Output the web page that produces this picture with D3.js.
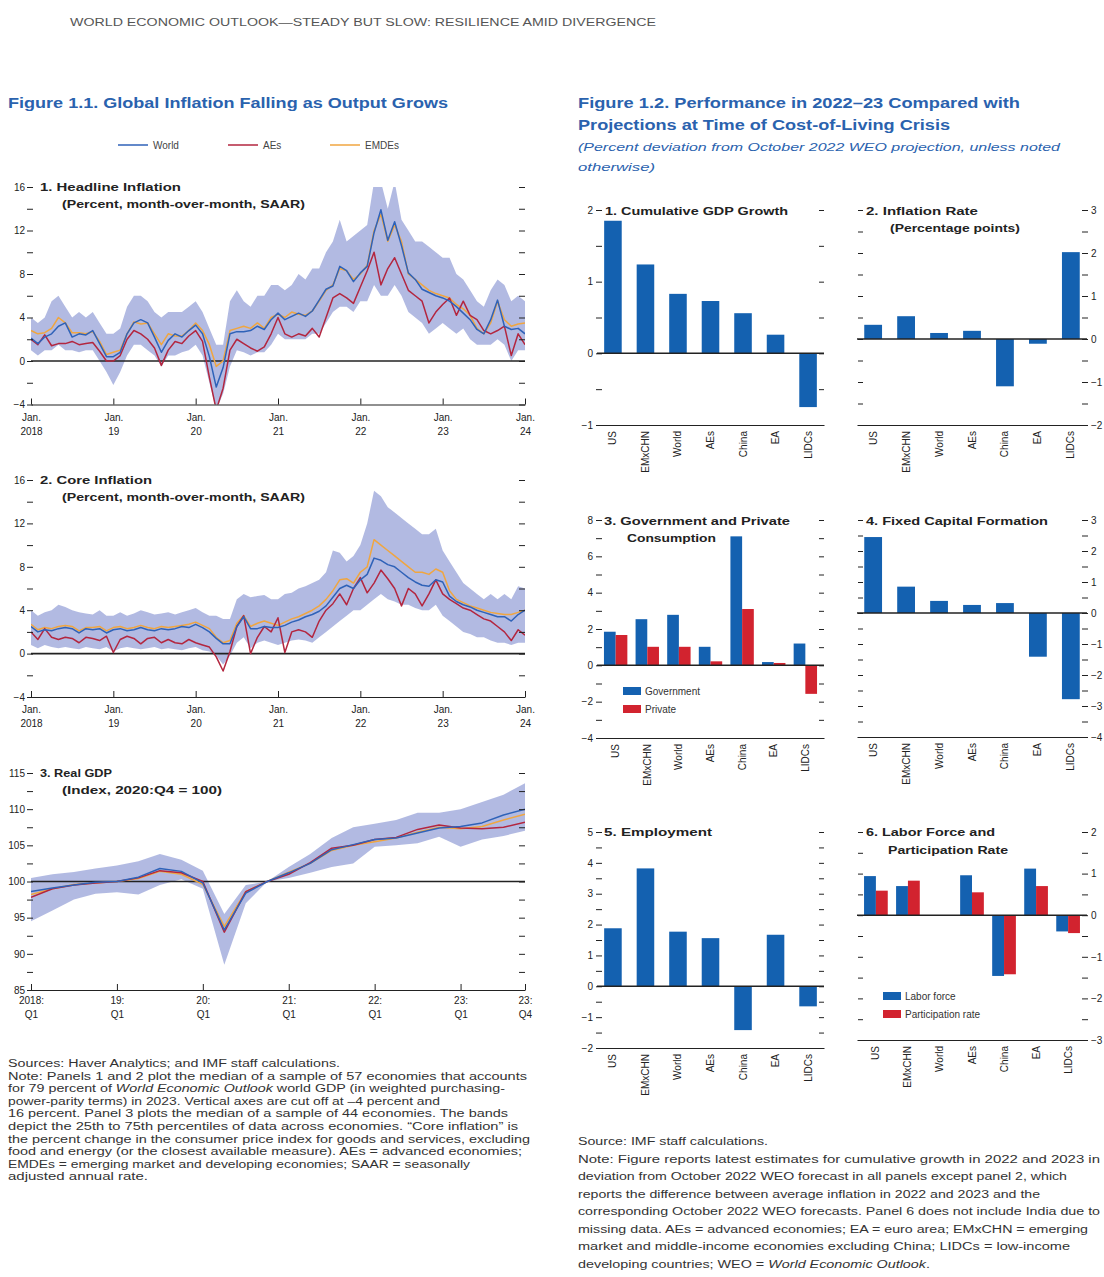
<!DOCTYPE html>
<html>
<head>
<meta charset="utf-8">
<script src="https://cdn.jsdelivr.net/npm/d3@7"></script>
<style>
body { margin: 0; background: #fff; }
</style>
</head>
<body>
<svg id="page" width="1104" height="1277"></svg>
<script>
const FONT = '"Liberation Sans", Arial, sans-serif';
const BLUE_TITLE = '#2a62ae';
const BAR_BLUE = '#1461b0';
const BAR_RED = '#d2232f';

// Figure 1.1 -- monthly, Jan 2018 .. Jan 2024
const headlineWorld = [2.1, 1.6, 2.2, 2.5, 3.2, 3.5, 2.2, 2.5, 2.4, 2.8, 1.6, 0.4,
	0.4, 0.8, 2.5, 3.5, 3.8, 3.5, 2.2, 0.8, 1.9, 2.5, 2.2, 2.8,
	3.3, 2.5, 0.4, -2.4, -0.6, 2.5, 2.7, 2.7, 2.8, 3.2, 2.9, 3.8,
	4.4, 3.8, 4.1, 4.4, 4.1, 4.6, 5.6, 6.6, 6.9, 8.7, 8.3, 7.3,
	8.1, 8.7, 11.8, 13.9, 11.1, 12.8, 10.6, 8.1, 7.5, 6.6, 6.3, 6.0,
	5.8, 5.5, 5.0, 4.4, 3.8, 2.9, 2.5, 3.8, 5.6, 3.2, 2.9, 3.0,
	2.5];
const headlineAEs = [2.0, 1.5, 2.4, 1.4, 1.6, 1.6, 1.8, 1.5, 1.6, 1.7, 0.9, 0.0,
	0.0, 0.5, 2.0, 2.8, 2.5, 2.0, 1.2, -0.4, 1.0, 1.8, 1.6, 2.3,
	2.8, 1.8, -1.5, -4.5, -2.5, 1.0, 2.0, 1.6, 1.2, 0.9, 1.3, 2.5,
	4.0, 2.5, 2.2, 2.5, 2.3, 3.0, 2.2, 4.0, 5.8, 6.2, 5.8, 5.3,
	6.8, 8.3, 10.0, 7.0, 8.5, 9.5, 8.0, 6.5, 6.0, 5.5, 3.5, 4.5,
	5.2, 5.8, 4.2, 5.5, 4.2, 3.8, 2.8, 2.5, 2.8, 3.2, 0.5, 2.5,
	1.5];
const headlineEMDEs = [2.8, 2.5, 2.6, 3.0, 4.0, 3.5, 2.6, 2.6, 2.5, 2.7, 1.8, 0.6,
	0.8, 1.0, 2.5, 3.6, 3.4, 3.5, 2.5, 1.5, 2.5, 2.3, 2.3, 2.8,
	3.5, 2.8, 1.5, -0.5, 0.0, 2.8, 3.0, 3.2, 3.0, 3.5, 3.0, 4.0,
	4.3, 4.0, 4.5, 4.3, 4.2, 4.6, 5.5, 6.5, 7.0, 8.5, 8.3, 7.5,
	8.0, 8.8, 12.0, 13.5, 11.0, 12.5, 11.0, 8.0, 7.5, 7.0, 6.5, 6.2,
	6.0, 5.8, 5.2, 4.8, 4.2, 3.0, 2.5, 3.5, 5.5, 3.8, 3.2, 3.4,
	3.5];
const headlineBandHigh = [4, 3.5, 4, 5.5, 6, 5, 4, 4.5, 4, 4.5, 3.5, 2.5,
	2.5, 3, 5, 6, 6, 5.5, 4.5, 4, 4.5, 4.5, 4.5, 5,
	5.5, 4.5, 3, 1.5, 1.5, 5.5, 6.5, 5.5, 5, 6, 6, 7,
	7, 6.5, 7, 8, 7.5, 8.5, 8.5, 10, 11, 13, 11, 11.5,
	12, 12.5, 16.5, 16.5, 14, 16.5, 13, 12, 11, 11, 10.5, 10,
	9.5, 9.5, 8, 7.5, 6.5, 5.5, 5, 6.5, 7.5, 7, 5.5, 6,
	5.5];
const headlineBandLow = [1, 0.5, 1, 1, 1.5, 1, 1, 0.8, 1, 1, 0, -1,
	-2.2, -1, 0.5, 1.5, 1.5, 1, 0.5, -0.5, 0.5, 0.5, 0.8, 1,
	1.5, 0.5, -2, -4.5, -3, -0.5, 1, 0.8, 0.5, 0.8, 0.8, 1.5,
	2.5, 2, 2, 2, 2, 2.5, 2.5, 3.5, 4.5, 5, 5, 4.5,
	5.5, 5.5, 7, 6, 6, 7, 6, 4.5, 4, 3.5, 2.5, 3,
	3.5, 3, 2.5, 3, 2, 1.5, 1.5, 1.5, 2, 1.5, 0, 1,
	1];

const coreWorld = [2.5, 2.0, 2.2, 2.1, 2.3, 2.4, 2.3, 1.9, 2.3, 2.2, 2.3, 1.9,
	2.2, 2.3, 2.1, 2.2, 2.4, 2.2, 2.1, 2.3, 2.2, 2.3, 2.5, 2.4,
	2.7, 2.4, 2.0, 1.4, 0.9, 0.9, 2.5, 3.4, 2.3, 2.3, 2.5, 2.4,
	2.4, 2.6, 2.9, 3.1, 3.4, 3.6, 3.9, 4.4, 5.2, 6.0, 6.3, 6.0,
	6.8, 7.3, 8.8, 8.6, 8.2, 8.0, 7.5, 7.0, 6.6, 6.3, 6.2, 6.8,
	6.6, 5.3, 4.8, 4.5, 4.3, 4.0, 3.8, 3.6, 3.4, 3.4, 3.0, 3.6,
	4.0];
const coreAEs = [2.0, 1.3, 2.3, 1.5, 1.3, 1.5, 1.4, 1.0, 1.5, 1.4, 1.2, 1.6,
	0.1, 1.3, 1.6, 1.4, 0.9, 1.4, 1.5, 1.0, 1.3, 1.0, 0.9, 1.3,
	1.0, 0.8, 0.6, -0.3, -1.6, 0.2, 2.5, 3.5, 0.0, 1.5, 2.5, 2.0,
	3.3, 0.1, 2.0, 2.2, 2.0, 1.5, 3.0, 4.0, 4.6, 5.5, 4.5, 6.0,
	7.0, 5.6, 6.5, 7.7, 6.9, 6.0, 4.4, 6.0, 5.5, 4.4, 5.5, 6.8,
	5.5, 5.0, 4.6, 4.2, 4.0, 3.6, 3.2, 3.0, 2.5, 2.0, 1.2, 2.2,
	1.7];
const coreEMDEs = [2.7, 2.2, 2.4, 2.3, 2.5, 2.6, 2.5, 2.1, 2.4, 2.4, 2.5, 2.1,
	2.4, 2.5, 2.3, 2.4, 2.6, 2.4, 2.3, 2.5, 2.4, 2.5, 2.6, 2.7,
	2.9, 2.6, 2.3, 1.5, 1.0, 1.2, 2.8, 3.5, 2.5, 2.8, 3.0, 2.8,
	2.6, 2.9, 3.2, 3.4, 3.7, 4.0, 4.4, 5.0, 5.8, 6.8, 6.9, 6.5,
	7.5, 8.0, 10.5, 10.0, 9.5, 9.0, 8.5, 8.0, 7.5, 7.5, 7.3, 7.8,
	7.5, 5.8, 5.0, 4.7, 4.4, 4.2, 4.0, 3.8, 3.7, 3.6, 3.6, 3.8,
	4.0];
const coreBandHigh = [4.0, 3.5, 3.8, 4.0, 4.5, 4.3, 4.0, 3.8, 3.7, 3.6, 4.0, 3.5,
	3.5, 3.8, 3.5, 3.7, 4.0, 3.8, 3.6, 3.7, 3.8, 3.6, 3.8, 4.0,
	4.2, 3.8, 3.5, 3.5, 3.2, 3.2, 5.0, 5.5, 5.2, 5.3, 5.4, 5.0,
	5.0, 5.5, 5.6, 6.0, 6.2, 6.5, 6.8, 7.5, 9.5, 9.3, 8.5, 9.0,
	10.0, 12.0, 15.0, 14.5, 13.5, 13.0, 12.5, 12.0, 11.5, 11.0, 11.0, 11.5,
	9.5, 8.5, 7.5, 6.5, 6.0, 5.5, 5.0, 5.5, 5.0, 5.5, 5.0, 6.2,
	6.0];
const coreBandLow = [0.8, 0.5, 0.8, 0.6, 0.5, 0.6, 0.5, 0.4, 0.6, 0.5, 0.4, 0.6,
	0.2, 0.5, 0.6, 0.5, 0.4, 0.5, 0.6, 0.4, 0.5, 0.4, 0.3, 0.5,
	0.6, 0.3, 0.2, -0.2, -1.0, -0.2, 1.0, 1.5, 0.5, 1.0, 1.2, 1.0,
	0.8, 1.0, 1.2, 1.3, 1.2, 1.0, 1.5, 2.0, 2.5, 3.0, 3.5, 4.0,
	4.0, 4.5, 5.0, 5.5, 5.0, 4.8, 4.5, 4.5, 4.2, 4.0, 4.0, 4.5,
	3.5, 3.0, 2.5, 2.0, 1.8, 1.5, 1.5, 1.2, 1.0, 1.0, 0.8, 1.0,
	1.0];

// quarterly, 2018:Q1 .. 2023:Q4
const gdpWorld = [98.6, 99.1, 99.5, 99.9, 100.0, 100.6, 101.8, 101.4, 99.8, 93.3, 98.4, 100.0,
	101.2, 102.5, 104.4, 105.1, 105.8, 106.0, 106.7, 107.4, 107.6, 108.1, 109.2, 110.0];
const gdpAEs = [97.8, 99.0, 99.5, 99.8, 100.0, 100.5, 101.5, 101.2, 100.0, 93.0, 98.6, 100.0,
	101.0, 102.6, 104.6, 105.0, 105.8, 106.1, 107.2, 107.8, 107.4, 107.3, 107.5, 108.2];
const gdpEMDEs = [98.2, 99.0, 99.6, 99.8, 100.0, 100.4, 101.4, 101.0, 99.6, 93.8, 98.6, 100.0,
	101.3, 102.5, 104.3, 105.0, 105.5, 106.0, 106.8, 107.5, 107.3, 107.6, 108.5, 109.3];
const gdpBandHigh = [100.5, 101.0, 101.3, 101.8, 102.2, 102.8, 103.8, 103.0, 101.5, 95.5, 99.5, 100.0,
	102.0, 103.8, 106.0, 107.5, 108.0, 108.5, 109.5, 109.5, 110.0, 111.0, 112.0, 113.6];
const gdpBandLow = [94.5, 96.0, 97.5, 98.3, 98.5, 98.2, 99.5, 100.3, 99.0, 88.5, 97.0, 100.0,
	100.5, 101.2, 102.0, 102.5, 104.8, 105.0, 105.3, 106.2, 104.8, 105.8, 106.3, 107.0];

const monthTicks = [0, 12, 24, 36, 48, 60, 72];
const monthTickLabels = [['Jan.', '2018'], ['Jan.', '19'], ['Jan.', '20'], ['Jan.', '21'], ['Jan.', '22'], ['Jan.', '23'], ['Jan.', '24']];
const quarterTicks = [0, 4, 8, 12, 16, 20, 23];
const quarterTickLabels = [['2018:', 'Q1'], ['19:', 'Q1'], ['20:', 'Q1'], ['21:', 'Q1'], ['22:', 'Q1'], ['23:', 'Q1'], ['23:', 'Q4']];

// Figure 1.2
const barCategories = ['US', 'EMxCHN', 'World', 'AEs', 'China', 'EA', 'LIDCs'];
const gdpGrowth = [1.85, 1.24, 0.83, 0.73, 0.56, 0.26, -0.75];
const inflationRate = [0.33, 0.53, 0.14, 0.19, -1.10, -0.11, 2.02];
const govConsumption = [1.85, 2.54, 2.78, 1.02, 7.10, 0.18, 1.20];
const privConsumption = [1.67, 1.02, 1.02, 0.22, 3.10, 0.13, -1.57];
const fixedCapital = [2.45, 0.85, 0.39, 0.26, 0.32, -1.41, -2.78];
const employment = [1.88, 3.82, 1.77, 1.56, -1.42, 1.67, -0.65];
const laborForce = [0.94, 0.70, null, 0.96, -1.46, 1.12, -0.39];
const participation = [0.59, 0.83, null, 0.55, -1.42, 0.70, -0.43];

const notesLeft = [
	['Sources: Haver Analytics; and IMF staff calculations.', 332],
	['Note: Panels 1 and 2 plot the median of a sample of 57 economies that accounts', 519],
	['for 79 percent of *World Economic Outlook* world GDP (in weighted purchasing-', 497],
	['power-parity terms) in 2023. Vertical axes are cut off at \u20134 percent and', 432],
	['16 percent. Panel 3 plots the median of a sample of 44 economies. The bands', 500],
	['depict the 25th to 75th percentiles of data across economies. \u201cCore inflation\u201d is', 510],
	['the percent change in the consumer price index for goods and services, excluding', 522],
	['food and energy (or the closest available measure). AEs = advanced economies;', 514],
	['EMDEs = emerging market and developing economies; SAAR = seasonally', 462],
	['adjusted annual rate.', 140]
];
const notesRight = [
	['Source: IMF staff calculations.', 190],
	['Note: Figure reports latest estimates for cumulative growth in 2022 and 2023 in', 522],
	['deviation from October 2022 WEO forecast in all panels except panel 2, which', 489],
	['reports the difference between average inflation in 2022 and 2023 and the', 462],
	['corresponding October 2022 WEO forecasts. Panel 6 does not include India due to', 522],
	['missing data. AEs = advanced economies; EA = euro area; EMxCHN = emerging', 510],
	['market and middle-income economies excluding China; LIDCs = low-income', 492],
	['developing countries; WEO = *World Economic Outlook*.', 352]
];

const svg = d3.select('#page').attr('font-family', FONT);

function addText(parent, x, y, str, o = {}) {
	const t = parent.append('text')
		.attr('x', x).attr('y', y)
		.attr('font-size', o.size || 10)
		.attr('font-weight', o.weight || null)
		.attr('font-style', o.style || null)
		.attr('fill', o.fill || '#222')
		.attr('text-anchor', o.anchor || 'start');
	str.split('*').forEach((part, i) => {
		if (part) t.append('tspan').attr('font-style', i % 2 ? 'italic' : null).text(part);
	});
	if (o.width) t.attr('textLength', o.width).attr('lengthAdjust', 'spacingAndGlyphs');
	return t;
}

function styleAxis(g, size) {
	g.attr('font-family', FONT).attr('font-size', size || 10);
	g.selectAll('.domain').remove();
	g.selectAll('line').attr('stroke', '#222');
	g.selectAll('text').attr('fill', '#222');
}

// header
addText(svg, 70, 26, 'WORLD ECONOMIC OUTLOOK\u2014STEADY BUT SLOW: RESILIENCE AMID DIVERGENCE',
	{ size: 10, fill: '#555', width: 586 });

// ---------- Figure 1.1 ----------
addText(svg, 8, 108, 'Figure 1.1.  Global Inflation Falling as Output Grows',
	{ size: 14, weight: 'bold', fill: BLUE_TITLE, width: 440 });

const lineSeries = [
	{ name: 'World', color: '#2f62b8', lx: 118 },
	{ name: 'AEs', color: '#b3263f', lx: 228 },
	{ name: 'EMDEs', color: '#f0a640', lx: 330 }
];
lineSeries.forEach(s => {
	svg.append('line').attr('x1', s.lx).attr('x2', s.lx + 30).attr('y1', 145).attr('y2', 145)
		.attr('stroke', s.color).attr('stroke-width', 1.5);
	addText(svg, s.lx + 35, 148.5, s.name, { size: 10, fill: '#444' });
});

const LX0 = 31, LX1 = 525;

function linePanel(cfg) {
	const n = cfg.world.length;
	const x = d3.scaleLinear().domain([0, n - 1]).range([LX0, LX1]);
	const y = d3.scaleLinear().domain(cfg.domain).range([cfg.bottom, cfg.top]);
	const g = svg.append('g');

	const clipId = 'clip' + cfg.id;
	g.append('clipPath').attr('id', clipId).append('rect')
		.attr('x', LX0).attr('y', cfg.top).attr('width', LX1 - LX0).attr('height', cfg.bottom - cfg.top);
	const plot = g.append('g').attr('clip-path', `url(#${clipId})`);

	const bandData = cfg.bandLow.map((d, i) => [d, cfg.bandHigh[i]]);
	plot.append('path').datum(bandData)
		.attr('fill', '#a4aedd').attr('fill-opacity', 0.85)
		.attr('d', d3.area().x((d, i) => x(i)).y0(d => y(d[0])).y1(d => y(d[1])));

	plot.append('line').attr('x1', LX0).attr('x2', LX1)
		.attr('y1', y(cfg.refLine)).attr('y2', y(cfg.refLine))
		.attr('stroke', '#222').attr('stroke-width', 1.6);

	const line = d3.line().x((d, i) => x(i)).y(d => y(d));
	[[cfg.emdes, lineSeries[2].color], [cfg.aes, lineSeries[1].color], [cfg.world, lineSeries[0].color]]
		.forEach(([vals, color]) => {
			plot.append('path').datum(vals).attr('fill', 'none')
				.attr('stroke', color).attr('stroke-width', 1.5).attr('stroke-linejoin', 'round')
				.attr('d', line);
		});

	// left labels and ticks
	const gl = g.append('g').attr('transform', `translate(25,0)`)
		.call(d3.axisLeft(y).tickValues(cfg.major).tickSize(0).tickPadding(0).tickFormat(d3.format('d')));
	styleAxis(gl, 10);
	const gt = g.append('g').attr('transform', `translate(27,0)`)
		.call(d3.axisRight(y).tickValues(cfg.minor).tickSize(6).tickFormat(''));
	styleAxis(gt);
	const gr = g.append('g').attr('transform', `translate(${LX1},0)`)
		.call(d3.axisLeft(y).tickValues(cfg.minor).tickSize(6).tickFormat(''));
	styleAxis(gr);

	// x axis
	const gx = g.append('g').attr('transform', `translate(0,${cfg.bottom})`)
		.call(d3.axisTop(x).tickValues(cfg.xTicks).tickSize(6).tickSizeOuter(0).tickFormat(''));
	gx.attr('font-family', FONT);
	gx.select('.domain').attr('stroke', '#222').attr('stroke-width', 1.2);
	gx.selectAll('line').attr('stroke', '#222');

	const gxl = g.append('g').attr('transform', `translate(0,${cfg.bottom + cfg.labelGap})`)
		.call(d3.axisBottom(x).tickValues(cfg.xTicks).tickSize(0).tickPadding(0).tickFormat(''));
	styleAxis(gxl, 10);
	gxl.selectAll('.tick text').each(function (d) {
		const lab = cfg.xLabels[cfg.xTicks.indexOf(d)];
		const t = d3.select(this).attr('dy', null);
		t.append('tspan').attr('x', 0).attr('dy', '0.9em').text(lab[0]);
		t.append('tspan').attr('x', 0).attr('dy', '1.4em').text(lab[1]);
	});

	addText(g, 40, cfg.top + 4, cfg.title[0], { size: 10.5, weight: 'bold', width: cfg.title[1] });
	addText(g, 62, cfg.top + 21, cfg.subtitle[0], { size: 10.5, weight: 'bold', width: cfg.subtitle[1] });
}

linePanel({
	id: 1, top: 187, bottom: 404.5, domain: [-4, 16], refLine: 0, labelGap: 7,
	world: headlineWorld, aes: headlineAEs, emdes: headlineEMDEs,
	bandLow: headlineBandLow, bandHigh: headlineBandHigh,
	major: [16, 12, 8, 4, 0, -4], minor: d3.range(-4, 17, 2),
	xTicks: monthTicks, xLabels: monthTickLabels,
	title: ['1. Headline Inflation', 141], subtitle: ['(Percent, month-over-month, SAAR)', 243]
});
linePanel({
	id: 2, top: 480, bottom: 697, domain: [-4, 16], refLine: 0, labelGap: 7,
	world: coreWorld, aes: coreAEs, emdes: coreEMDEs,
	bandLow: coreBandLow, bandHigh: coreBandHigh,
	major: [16, 12, 8, 4, 0, -4], minor: d3.range(-4, 17, 2),
	xTicks: monthTicks, xLabels: monthTickLabels,
	title: ['2. Core Inflation', 112], subtitle: ['(Percent, month-over-month, SAAR)', 243]
});
linePanel({
	id: 3, top: 773, bottom: 990, domain: [85, 115], refLine: 100, labelGap: 5,
	world: gdpWorld, aes: gdpAEs, emdes: gdpEMDEs,
	bandLow: gdpBandLow, bandHigh: gdpBandHigh,
	major: [115, 110, 105, 100, 95, 90, 85], minor: d3.range(85, 116, 2.5),
	xTicks: quarterTicks, xLabels: quarterTickLabels,
	title: ['3. Real GDP', 72], subtitle: ['(Index, 2020:Q4 = 100)', 160]
});

notesLeft.forEach((d, i) => addText(svg, 8, 1067 + i * 12.6, d[0], { size: 10, fill: '#333', width: d[1] }));

// ---------- Figure 1.2 ----------
addText(svg, 578, 108, 'Figure 1.2.  Performance in 2022\u201323 Compared with',
	{ size: 14, weight: 'bold', fill: BLUE_TITLE, width: 442 });
addText(svg, 578, 130, 'Projections at Time of Cost-of-Living Crisis',
	{ size: 14, weight: 'bold', fill: BLUE_TITLE, width: 372 });
addText(svg, 578, 151, '(Percent deviation from October 2022 WEO projection, unless noted',
	{ size: 11, style: 'italic', fill: BLUE_TITLE, width: 482 });
addText(svg, 578, 171, 'otherwise)', { size: 11, style: 'italic', fill: BLUE_TITLE, width: 77 });

function barPanel(cfg) {
	const g = svg.append('g');
	const y = d3.scaleLinear().domain(cfg.domain).range([cfg.bottom, cfg.top]);
	const x = d3.scaleBand().domain(barCategories).range([cfg.x0, cfg.x1])
		.paddingInner(cfg.series.length > 1 ? 0.26 : 0.46).paddingOuter(0.22);
	const xs = d3.scaleBand().domain(d3.range(cfg.series.length)).range([0, x.bandwidth()]);

	// bottom axis line
	const gb = g.append('g').attr('transform', `translate(0,${cfg.bottom})`)
		.call(d3.axisBottom(x).tickValues([]).tickSizeOuter(0));
	gb.select('.domain').attr('stroke', '#222').attr('stroke-width', 1.2);

	cfg.series.forEach((s, si) => {
		g.append('g').selectAll('rect')
			.data(barCategories.map((c, i) => ({ c, v: s.values[i] })).filter(d => d.v !== null))
			.join('rect')
			.attr('x', d => x(d.c) + xs(si))
			.attr('width', xs.bandwidth())
			.attr('y', d => y(Math.max(0, d.v)))
			.attr('height', d => Math.abs(y(d.v) - y(0)))
			.attr('fill', s.color);
	});

	g.append('line').attr('x1', cfg.x0).attr('x2', cfg.x1).attr('y1', y(0)).attr('y2', y(0))
		.attr('stroke', '#222').attr('stroke-width', 1.5);

	if (cfg.labelSide === 'left') {
		const gl = g.append('g').attr('transform', `translate(${cfg.x0 - 4},0)`)
			.call(d3.axisLeft(y).tickValues(cfg.major).tickSize(0).tickPadding(0).tickFormat(d3.format('d')));
		styleAxis(gl, 10);
		const gt = g.append('g').attr('transform', `translate(${cfg.x0 - 1},0)`)
			.call(d3.axisRight(y).tickValues(cfg.minor).tickSize(6).tickFormat(''));
		styleAxis(gt);
		const gr = g.append('g').attr('transform', `translate(${cfg.x1},0)`)
			.call(d3.axisLeft(y).tickValues(cfg.minor).tickSize(5).tickFormat(''));
		styleAxis(gr);
	} else {
		const gl = g.append('g').attr('transform', `translate(${cfg.x0 + 1},0)`)
			.call(d3.axisLeft(y).tickValues(cfg.minor).tickSize(-5).tickFormat(''));
		styleAxis(gl);
		const gt = g.append('g').attr('transform', `translate(${cfg.x1 + 1},0)`)
			.call(d3.axisLeft(y).tickValues(cfg.minor).tickSize(6).tickFormat(''));
		styleAxis(gt);
		const gr = g.append('g').attr('transform', `translate(${cfg.x1 + 4},0)`)
			.call(d3.axisRight(y).tickValues(cfg.major).tickSize(0).tickPadding(0).tickFormat(d3.format('d')));
		styleAxis(gr, 10);
	}

	// rotated category labels
	g.append('g').selectAll('text').data(barCategories).join('text')
		.attr('transform', d => `translate(${x(d) + x.bandwidth() / 2 + 3.5},${cfg.bottom + 6}) rotate(-90)`)
		.attr('text-anchor', 'end')
		.attr('font-size', 10).attr('fill', '#222')
		.text(d => d);

	cfg.title.forEach(t => addText(g, t[1], t[2], t[0], { size: 10.5, weight: 'bold', width: t[3] }));

	if (cfg.legend) {
		cfg.legend.forEach((l, i) => {
			g.append('rect').attr('x', cfg.legendX).attr('y', cfg.legendY + i * 18 - 4)
				.attr('width', 18).attr('height', 8).attr('fill', cfg.series[i].color);
			addText(g, cfg.legendX + 22, cfg.legendY + i * 18 + 3.5, l, { size: 10, fill: '#333' });
		});
	}
}

const halfSteps = (a, b) => d3.range(a, b + 0.01, 0.5);

barPanel({
	x0: 597, x1: 824, top: 210, bottom: 425, domain: [-1, 2], labelSide: 'left',
	major: [2, 1, 0, -1], minor: halfSteps(-1, 2),
	series: [{ values: gdpGrowth, color: BAR_BLUE }],
	title: [['1. Cumulative GDP Growth', 605, 215, 183]]
});
barPanel({
	x0: 857, x1: 1087, top: 210, bottom: 425, domain: [-2, 3], labelSide: 'right',
	major: [3, 2, 1, 0, -1, -2], minor: halfSteps(-2, 3),
	series: [{ values: inflationRate, color: BAR_BLUE }],
	title: [['2. Inflation Rate', 866, 215, 112], ['(Percentage points)', 890, 232, 130]]
});
barPanel({
	x0: 597, x1: 824, top: 520, bottom: 738, domain: [-4, 8], labelSide: 'left',
	major: [8, 6, 4, 2, 0, -2, -4], minor: d3.range(-4, 9, 1),
	series: [{ values: govConsumption, color: BAR_BLUE }, { values: privConsumption, color: BAR_RED }],
	title: [['3. Government and Private', 604, 525, 186], ['Consumption', 627, 542, 89]],
	legend: ['Government', 'Private'], legendX: 623, legendY: 691
});
barPanel({
	x0: 857, x1: 1087, top: 520, bottom: 737, domain: [-4, 3], labelSide: 'right',
	major: [3, 2, 1, 0, -1, -2, -3, -4], minor: halfSteps(-4, 3),
	series: [{ values: fixedCapital, color: BAR_BLUE }],
	title: [['4. Fixed Capital Formation', 866, 525, 182]]
});
barPanel({
	x0: 597, x1: 824, top: 832, bottom: 1048, domain: [-2, 5], labelSide: 'left',
	major: [5, 4, 3, 2, 1, 0, -1, -2], minor: halfSteps(-2, 5),
	series: [{ values: employment, color: BAR_BLUE }],
	title: [['5. Employment', 604, 836, 108]]
});
barPanel({
	x0: 857, x1: 1087, top: 832, bottom: 1040, domain: [-3, 2], labelSide: 'right',
	major: [2, 1, 0, -1, -2, -3], minor: halfSteps(-3, 2),
	series: [{ values: laborForce, color: BAR_BLUE }, { values: participation, color: BAR_RED }],
	title: [['6. Labor Force and', 866, 836, 129], ['Participation Rate', 888, 854, 120]],
	legend: ['Labor force', 'Participation rate'], legendX: 883, legendY: 996
});

notesRight.forEach((d, i) => addText(svg, 578, 1145 + i * 17.5, d[0], { size: 10, fill: '#333', width: d[1] }));
</script>
</body>
</html>
